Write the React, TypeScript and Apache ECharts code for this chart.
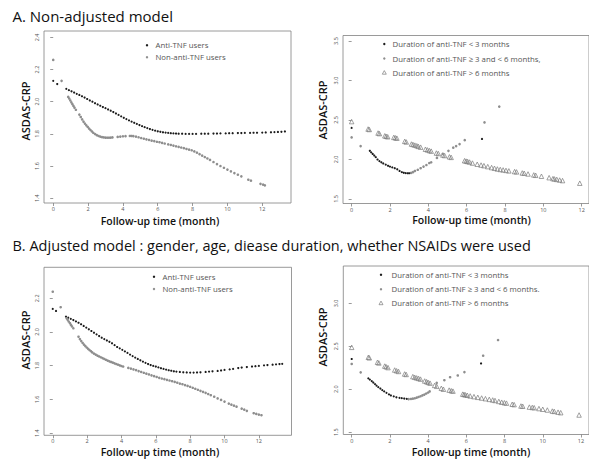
import React, { useEffect, useRef } from "react";
import * as echarts from "echarts";

// ---------- tick labels ----------
const xTicks = [0, 2, 4, 6, 8, 10, 12];
const yTicksAL = [1.4, 1.6, 1.8, 2.0, 2.2, 2.4];
const yTicksAR = [1.5, 2.0, 2.5, 3.0, 3.5];
const yTicksBL = [1.4, 1.6, 1.8, 2.0, 2.2];
const yTicksBR = [1.5, 2.0, 2.5, 3.0];

// ---------- texts ----------
const titleA = "A. Non-adjusted model";
const titleB = "B. Adjusted model : gender, age, diease duration, whether NSAIDs were used";
const yName = "ASDAS-CRP";
const xName = "Follow-up time (month)";
const legUsers = ["Anti-TNF users", "Non-anti-TNF users"];
const legDurA = ["Duration of anti-TNF < 3 months", "Duration of anti-TNF \u2265 3 and < 6 months,", "Duration of anti-TNF > 6 months"];
const legDurB = ["Duration of anti-TNF < 3 months", "Duration of anti-TNF \u2265 3 and < 6 months.", "Duration of anti-TNF > 6 months"];

// ---------- A: non-adjusted, users ----------
const aAnti: number[][] = [
  [0, 2.13], [0.23, 2.11], [0.75, 2.08], [0.9, 2.072], [1.05, 2.065], [1.2, 2.057], [1.35, 2.049], [1.5, 2.042],
  [1.65, 2.034], [1.8, 2.026], [1.95, 2.017], [2.1, 2.008], [2.25, 2.0], [2.4, 1.991], [2.55, 1.983], [2.7, 1.975],
  [2.85, 1.967], [3.0, 1.96], [3.15, 1.952], [3.3, 1.944], [3.45, 1.936], [3.6, 1.927], [3.75, 1.918], [3.9, 1.909],
  [4.05, 1.9], [4.2, 1.892], [4.35, 1.884], [4.5, 1.876], [4.65, 1.869], [4.8, 1.862], [4.95, 1.855], [5.1, 1.848],
  [5.25, 1.842], [5.4, 1.836], [5.55, 1.83], [5.7, 1.825], [5.85, 1.82], [6.0, 1.816], [6.15, 1.813], [6.3, 1.81],
  [6.45, 1.808], [6.6, 1.806], [6.75, 1.804], [6.9, 1.803], [7.05, 1.802], [7.2, 1.801], [7.4, 1.801], [7.6, 1.8],
  [7.8, 1.8], [8.0, 1.8], [8.2, 1.8], [8.5, 1.801], [8.7, 1.801], [8.9, 1.801], [9.2, 1.802], [9.4, 1.802],
  [9.6, 1.803], [9.9, 1.803], [10.1, 1.804], [10.3, 1.804], [10.6, 1.805], [10.8, 1.805], [11.0, 1.806], [11.3, 1.806],
  [11.5, 1.807], [11.7, 1.807], [12.0, 1.808], [12.2, 1.809], [12.5, 1.81], [12.7, 1.811], [12.9, 1.812], [13.1, 1.813],
  [13.3, 1.815],
];
const aNon: number[][] = [
  [0, 2.26], [0.48, 2.13], [0.86, 2.03], [0.92, 2.02], [0.98, 2.008], [1.04, 1.996], [1.1, 1.985], [1.16, 1.974],
  [1.22, 1.963], [1.3, 1.95], [1.5, 1.92], [1.58, 1.905], [1.66, 1.89], [1.74, 1.876], [1.82, 1.864], [1.9, 1.853],
  [1.98, 1.843], [2.06, 1.833], [2.14, 1.824], [2.22, 1.815], [2.3, 1.807], [2.4, 1.799], [2.5, 1.792], [2.6, 1.787],
  [2.7, 1.783], [2.8, 1.78], [2.9, 1.778], [3.0, 1.777], [3.1, 1.776], [3.2, 1.776], [3.3, 1.777], [3.4, 1.778],
  [3.7, 1.781], [3.85, 1.783], [4.0, 1.785], [4.15, 1.786], [4.4, 1.787], [4.5, 1.787], [4.6, 1.786], [4.75, 1.783],
  [4.9, 1.779], [5.05, 1.774], [5.2, 1.77], [5.35, 1.766], [5.5, 1.762], [5.65, 1.758], [5.8, 1.755], [5.95, 1.751],
  [6.1, 1.748], [6.25, 1.744], [6.4, 1.74], [6.6, 1.735], [6.75, 1.731], [6.9, 1.727], [7.05, 1.723], [7.2, 1.719],
  [7.35, 1.715], [7.5, 1.711], [7.65, 1.706], [7.8, 1.702], [7.95, 1.698], [8.1, 1.691], [8.25, 1.683], [8.4, 1.674],
  [8.55, 1.665], [8.7, 1.656], [8.85, 1.647], [9.0, 1.638], [9.2, 1.625], [9.4, 1.612], [9.6, 1.6], [9.8, 1.589],
  [10.0, 1.578], [10.2, 1.567], [10.4, 1.556], [10.6, 1.546], [10.8, 1.536], [11.2, 1.515], [11.35, 1.509],
  [11.9, 1.489], [12.05, 1.484], [12.15, 1.48],
];

// ---------- A: non-adjusted, duration groups ----------
const aShort: number[][] = [
  [0, 2.4], [0.95, 2.11], [1.02, 2.09], [1.1, 2.07], [1.18, 2.05], [1.26, 2.03], [1.35, 2.0], [1.45, 1.98],
  [1.55, 1.965], [1.65, 1.95], [1.78, 1.935], [1.9, 1.92], [2.0, 1.91], [2.12, 1.9], [2.25, 1.89], [2.38, 1.876],
  [2.5, 1.855], [2.62, 1.84], [2.72, 1.832], [2.82, 1.828], [2.92, 1.826], [3.0, 1.826], [6.8, 2.26],
];
const aMid: number[][] = [
  [0, 2.28], [0.47, 2.17], [3.1, 1.83], [3.2, 1.84], [3.3, 1.855], [3.45, 1.87], [3.6, 1.89], [3.75, 1.91],
  [3.9, 1.93], [4.05, 1.955], [4.15, 1.965], [4.45, 2.02], [4.75, 2.07], [5.05, 2.11], [5.3, 2.15], [5.45, 2.17],
  [5.63, 2.195], [5.9, 2.245], [6.93, 2.47], [7.7, 2.67],
];
const aLong: number[][] = [
  [0, 2.48], [0.86, 2.386], [0.92, 2.38], [1.38, 2.335], [1.45, 2.328], [1.73, 2.3], [1.8, 2.294], [1.88, 2.288],
  [2.2, 2.28], [2.28, 2.275], [2.36, 2.27], [2.77, 2.23], [2.85, 2.222], [3.12, 2.196], [3.2, 2.19], [3.3, 2.182],
  [3.4, 2.174], [3.48, 2.166], [3.6, 2.156], [3.85, 2.13], [3.95, 2.122], [4.05, 2.114], [4.15, 2.106], [4.42, 2.082],
  [4.52, 2.076], [4.76, 2.057], [4.85, 2.05], [5.1, 2.034], [5.19, 2.027], [5.89, 1.985], [5.97, 1.98], [6.05, 1.975],
  [6.15, 1.968], [6.3, 1.955], [6.55, 1.94], [6.75, 1.93], [6.9, 1.922], [7.1, 1.91], [7.3, 1.898], [7.45, 1.889],
  [7.6, 1.88], [7.75, 1.874], [7.9, 1.868], [8.05, 1.862], [8.2, 1.856], [8.5, 1.847], [8.6, 1.843], [8.9, 1.83],
  [9.0, 1.826], [9.2, 1.817], [9.5, 1.805], [9.6, 1.8], [9.9, 1.788], [10.3, 1.77], [10.5, 1.758], [10.58, 1.754],
  [10.7, 1.748], [10.85, 1.74], [11.0, 1.733], [11.9, 1.7],
];

// ---------- B: adjusted, users ----------
const bAnti: number[][] = [
  [0, 2.137], [0.19, 2.125], [0.77, 2.091], [0.9, 2.085], [1.05, 2.078], [1.2, 2.071], [1.35, 2.063], [1.5, 2.055],
  [1.65, 2.046], [1.8, 2.036], [1.95, 2.026], [2.1, 2.016], [2.25, 2.006], [2.4, 1.996], [2.55, 1.986], [2.7, 1.976],
  [2.85, 1.966], [3.0, 1.958], [3.15, 1.95], [3.3, 1.942], [3.45, 1.933], [3.6, 1.922], [3.75, 1.911], [3.9, 1.903],
  [4.05, 1.894], [4.2, 1.885], [4.35, 1.876], [4.5, 1.866], [4.65, 1.857], [4.8, 1.848], [4.95, 1.84], [5.1, 1.832],
  [5.25, 1.824], [5.4, 1.817], [5.55, 1.81], [5.7, 1.804], [5.85, 1.799], [6.0, 1.795], [6.15, 1.79], [6.3, 1.785],
  [6.45, 1.781], [6.6, 1.777], [6.75, 1.773], [6.9, 1.77], [7.05, 1.767], [7.2, 1.765], [7.4, 1.763], [7.6, 1.761],
  [7.8, 1.76], [8.0, 1.759], [8.2, 1.759], [8.4, 1.76], [8.6, 1.761], [8.9, 1.763], [9.1, 1.765], [9.3, 1.767],
  [9.6, 1.769], [9.8, 1.772], [10.0, 1.775], [10.3, 1.778], [10.5, 1.781], [10.8, 1.786], [11.0, 1.789], [11.3, 1.792],
  [11.6, 1.795], [11.8, 1.797], [12.0, 1.799], [12.3, 1.802], [12.5, 1.804], [12.8, 1.806], [13.0, 1.808], [13.2, 1.81],
  [13.36, 1.811],
];
const bNon: number[][] = [
  [0, 2.239], [0.46, 2.147], [0.81, 2.081], [0.87, 2.072], [0.93, 2.062], [1.0, 2.052], [1.06, 2.042], [1.12, 2.033],
  [1.2, 2.022], [1.5, 1.972], [1.58, 1.958], [1.66, 1.946], [1.74, 1.935], [1.82, 1.925], [1.9, 1.916], [1.98, 1.908],
  [2.06, 1.9], [2.14, 1.893], [2.22, 1.886], [2.3, 1.879], [2.4, 1.872], [2.5, 1.866], [2.6, 1.86], [2.7, 1.855],
  [2.8, 1.85], [2.9, 1.845], [3.0, 1.84], [3.1, 1.835], [3.2, 1.83], [3.3, 1.826], [3.4, 1.822], [3.5, 1.818],
  [3.6, 1.814], [3.7, 1.81], [3.8, 1.806], [3.9, 1.802], [4.0, 1.798], [4.1, 1.795], [4.4, 1.787], [4.55, 1.783],
  [4.7, 1.778], [4.85, 1.774], [5.0, 1.768], [5.15, 1.763], [5.3, 1.758], [5.45, 1.753], [5.6, 1.748], [5.75, 1.743],
  [5.9, 1.738], [6.05, 1.733], [6.2, 1.728], [6.35, 1.724], [6.5, 1.72], [6.65, 1.716], [6.8, 1.712], [6.95, 1.708],
  [7.1, 1.704], [7.25, 1.699], [7.4, 1.694], [7.55, 1.69], [7.7, 1.685], [7.85, 1.68], [8.0, 1.675], [8.15, 1.669],
  [8.3, 1.663], [8.45, 1.657], [8.6, 1.651], [8.75, 1.645], [8.9, 1.639], [9.05, 1.632], [9.2, 1.625], [9.4, 1.616],
  [9.6, 1.606], [9.8, 1.597], [10.0, 1.587], [10.25, 1.575], [10.4, 1.569], [10.55, 1.563], [10.7, 1.557],
  [11.0, 1.545], [11.15, 1.539], [11.3, 1.532], [11.7, 1.518], [11.85, 1.514], [12.0, 1.51], [12.15, 1.506],
];

// ---------- B: adjusted, duration groups ----------
const bShort: number[][] = [
  [0, 2.352], [0.87, 2.127], [0.95, 2.112], [1.05, 2.095], [1.13, 2.078], [1.22, 2.06], [1.3, 2.042], [1.39, 2.025],
  [1.5, 2.008], [1.6, 1.99], [1.7, 1.975], [1.82, 1.958], [1.95, 1.94], [2.05, 1.928], [2.2, 1.917], [2.34, 1.906],
  [2.5, 1.9], [2.62, 1.896], [2.75, 1.892], [2.88, 1.888], [6.77, 2.3],
];
const bMid: number[][] = [
  [0, 2.294], [0.47, 2.197], [2.98, 1.885], [3.1, 1.887], [3.2, 1.89], [3.3, 1.895], [3.4, 1.902], [3.5, 1.91],
  [3.6, 1.918], [3.7, 1.928], [3.8, 1.938], [3.9, 1.95], [4.0, 1.962], [4.08, 1.975], [4.45, 2.075], [4.85, 2.105],
  [5.15, 2.14], [5.55, 2.16], [5.9, 2.2], [6.88, 2.39], [7.66, 2.573],
];
const bLong: number[][] = [
  [0, 2.488], [0.87, 2.372], [0.92, 2.366], [1.35, 2.314], [1.42, 2.306], [1.73, 2.27], [1.8, 2.262], [1.9, 2.252],
  [2.25, 2.224], [2.35, 2.215], [2.45, 2.207], [2.77, 2.178], [2.85, 2.172], [3.2, 2.147], [3.3, 2.139], [3.4, 2.132],
  [3.5, 2.126], [3.6, 2.118], [3.82, 2.096], [3.92, 2.088], [4.0, 2.08], [4.1, 2.071], [4.34, 2.045], [4.45, 2.034],
  [4.69, 2.011], [4.8, 2.0], [5.1, 1.99], [5.21, 1.983], [5.3, 1.978], [5.81, 1.943], [5.88, 1.939], [5.95, 1.935],
  [6.05, 1.93], [6.2, 1.922], [6.4, 1.914], [6.6, 1.906], [6.8, 1.898], [7.0, 1.89], [7.2, 1.882], [7.38, 1.875],
  [7.5, 1.869], [7.7, 1.858], [7.85, 1.849], [7.99, 1.843], [8.1, 1.838], [8.4, 1.825], [8.5, 1.821], [8.86, 1.805],
  [8.95, 1.802], [9.3, 1.792], [9.45, 1.788], [9.55, 1.785], [9.8, 1.775], [10.0, 1.767], [10.24, 1.758], [10.5, 1.746],
  [10.6, 1.742], [10.8, 1.733], [10.94, 1.727], [11.9, 1.7],
];

const FONT = "'Open Sans', 'Noto Sans', sans-serif";
const BLACK = "#1c1c1c";
const GRAY = "#8e8e8e";
const TRI = "#7a7a7a";

export default function App() {
  const ref = useRef<HTMLDivElement>(null);
  useEffect(() => {
    if (!ref.current) return;
    const chart = echarts.init(ref.current, null, { renderer: "svg" });

    const grids = [
      { left: 44, top: 31, width: 247, height: 172 },
      { left: 343, top: 35.5, width: 247, height: 168 },
      { left: 44, top: 267.3, width: 247.5, height: 168 },
      { left: 343.3, top: 266, width: 247, height: 168.5 },
    ].map((g) => ({ ...g, show: true, borderColor: "#808080", borderWidth: 0.8, backgroundColor: "#fff" }));

    const xr = [
      [-0.53, 13.65],
      [-0.45, 12.38],
      [-0.51, 13.9],
      [-0.44, 12.42],
    ];
    const yr = [
      [1.37, 2.44],
      [1.443, 3.57],
      [1.387, 2.384],
      [1.473, 3.435],
    ];
    const yt = [yTicksAL, yTicksAR, yTicksBL, yTicksBR];

    const xAxis = xr.map((r, i) => ({
      type: "value",
      gridIndex: i,
      min: r[0],
      max: r[1],
      splitLine: { show: false },
      axisLine: { show: false },
      axisTick: { show: true, customValues: xTicks, length: 3, lineStyle: { color: "#808080", width: 0.8 } },
      axisLabel: {
        customValues: xTicks,
        fontSize: 5.5,
        color: "#555",
        fontFamily: FONT,
        margin: 3,
        formatter: (v: number) => String(v),
      },
    }));
    const yAxis = yr.map((r, i) => ({
      type: "value",
      gridIndex: i,
      min: r[0],
      max: r[1],
      splitLine: { show: false },
      axisLine: { show: false },
      axisTick: { show: true, customValues: yt[i], length: 3, lineStyle: { color: "#808080", width: 0.8 } },
      axisLabel: {
        customValues: yt[i],
        rotate: 90,
        fontSize: 5.5,
        color: "#555",
        fontFamily: FONT,
        margin: 4,
        formatter: (v: number) => v.toFixed(1),
      },
    }));

    const dot = (name: string, data: number[][], idx: number, color: string, size: number) => ({
      type: "scatter",
      name,
      data,
      xAxisIndex: idx,
      yAxisIndex: idx,
      symbol: "circle",
      symbolSize: size,
      silent: true,
      itemStyle: { color, opacity: 1 },
    });
    const tri = (name: string, data: number[][], idx: number) => ({
      type: "scatter",
      name,
      data,
      xAxisIndex: idx,
      yAxisIndex: idx,
      symbol: "triangle",
      symbolSize: 4.5,
      silent: true,
      itemStyle: { color: "rgba(255,255,255,0)", borderColor: TRI, borderWidth: 0.7, opacity: 1 },
    });

    const series = [
      dot(legUsers[0], aAnti, 0, BLACK, 2.2),
      dot(legUsers[1], aNon, 0, GRAY, 2.6),
      tri(legDurA[2], aLong, 1),
      dot(legDurA[1], aMid, 1, GRAY, 2.6),
      dot(legDurA[0], aShort, 1, BLACK, 2.2),
      dot(legUsers[0] + " (adj)", bAnti, 2, BLACK, 2.2),
      dot(legUsers[1] + " (adj)", bNon, 2, GRAY, 2.6),
      tri(legDurB[2] + " (adj)", bLong, 3),
      dot(legDurB[1] + " (adj)", bMid, 3, GRAY, 2.6),
      dot(legDurB[0] + " (adj)", bShort, 3, BLACK, 2.2),
    ];

    const txt = (text: string, x: number, y: number, size: number, opts: any = {}) => ({
      type: "text",
      x,
      y,
      rotation: opts.rotation || 0,
      silent: true,
      style: {
        text,
        fontSize: size,
        fontFamily: FONT,
        fontWeight: opts.weight || "normal",
        fill: opts.color || "#111",
        textAlign: opts.align || "left",
        textVerticalAlign: "middle",
        verticalAlign: "middle",
      },
    });
    const legDot = (x: number, y: number, color: string) => ({
      type: "circle",
      silent: true,
      shape: { cx: x, cy: y, r: 1.2 },
      style: { fill: color },
    });
    const legTri = (x: number, y: number) => ({
      type: "polygon",
      silent: true,
      shape: { points: [[x - 2, y + 1.7], [x + 2, y + 1.7], [x, y - 1.9]] },
      style: { fill: "none", stroke: TRI, lineWidth: 0.7 },
    });

    const LEG = "#555";
    const legendSize = 7.8;
    const graphic = [
      txt(titleA, 12.5, 16, 15, { color: "#111" }),
      txt(titleB, 12.5, 245, 14.5, { color: "#111" }),
      // y titles
      txt(yName, 25, 111, 11, { rotation: Math.PI / 2, align: "center", weight: 600 }),
      txt(yName, 322.5, 110, 11, { rotation: Math.PI / 2, align: "center", weight: 600 }),
      txt(yName, 25, 340, 11, { rotation: Math.PI / 2, align: "center", weight: 600 }),
      txt(yName, 322, 337, 11, { rotation: Math.PI / 2, align: "center", weight: 600 }),
      // x titles
      txt(xName, 160, 221, 10.5, { align: "center", weight: 600 }),
      txt(xName, 471.5, 220, 10.5, { align: "center", weight: 600 }),
      txt(xName, 160, 451.5, 10.5, { align: "center", weight: 600 }),
      txt(xName, 471, 451.5, 10.5, { align: "center", weight: 600 }),
      // legend A-left
      legDot(147, 45.3, BLACK),
      txt(legUsers[0], 155.5, 45.3, legendSize, { color: LEG }),
      legDot(147, 57.2, GRAY),
      txt(legUsers[1], 155.5, 57.2, legendSize, { color: LEG }),
      // legend A-right
      legDot(384.3, 44, BLACK),
      txt(legDurA[0], 392.5, 44, legendSize, { color: LEG }),
      legDot(384.3, 58.5, GRAY),
      txt(legDurA[1], 392.5, 58.5, legendSize, { color: LEG }),
      legTri(384.3, 72.5),
      txt(legDurA[2], 392.5, 72.5, legendSize, { color: LEG }),
      // legend B-left
      legDot(154, 276.7, BLACK),
      txt(legUsers[0], 162.5, 276.7, legendSize, { color: LEG }),
      legDot(154, 289, GRAY),
      txt(legUsers[1], 162.5, 289, legendSize, { color: LEG }),
      // legend B-right
      legDot(381, 274.7, BLACK),
      txt(legDurB[0], 391.5, 274.7, legendSize, { color: LEG }),
      legDot(381, 289.2, GRAY),
      txt(legDurB[1], 391.5, 289.2, legendSize, { color: LEG }),
      legTri(381, 303),
      txt(legDurB[2], 391.5, 303, legendSize, { color: LEG }),
    ];

    chart.setOption({
      animation: false,
      backgroundColor: "#fff",
      grid: grids,
      xAxis,
      yAxis,
      series,
      graphic,
    } as any);

    return () => chart.dispose();
  }, []);

  return (
    <div
      ref={ref}
      style={{ position: "absolute", left: 0, top: 0, width: 589, height: 461, background: "#fff" }}
    />
  );
}
